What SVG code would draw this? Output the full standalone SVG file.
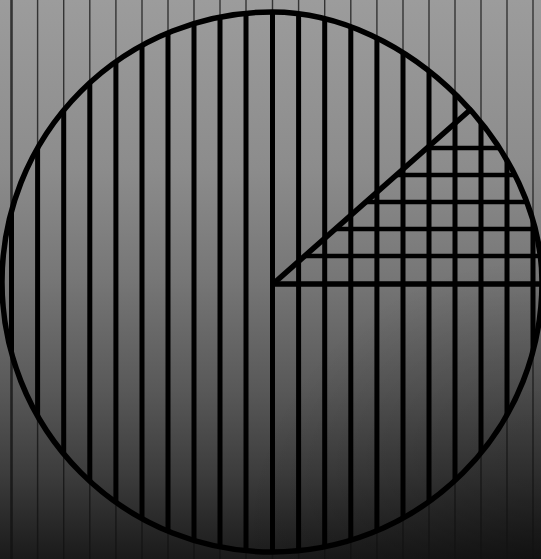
<svg xmlns="http://www.w3.org/2000/svg" width="541" height="559" viewBox="0 0 541 559">
  <defs>
    <linearGradient id="bg" x1="0" y1="0" x2="0" y2="1">
      <stop offset="0" stop-color="#9c9c9c"/>
      <stop offset="0.3" stop-color="#8c8c8c"/>
      <stop offset="0.5" stop-color="#767676"/>
      <stop offset="0.7" stop-color="#585858"/>
      <stop offset="0.85" stop-color="#3c3c3c"/>
      <stop offset="1" stop-color="#1a1a1a"/>
    </linearGradient>
    <radialGradient id="shade" cx="541" cy="559" r="300" gradientUnits="userSpaceOnUse">
      <stop offset="0" stop-color="#000" stop-opacity="0.35"/>
      <stop offset="1" stop-color="#000" stop-opacity="0"/>
    </radialGradient>
    <clipPath id="disc">
      <path d="M272,12 C407,12 542,147 542,282 A270,270 0 0 1 272,552 A270,270 0 0 1 2,282 A270,270 0 0 1 272,12 Z"/>
    </clipPath>
    <clipPath id="slice">
      <path d="M273,284 L470,110 L541,60 L541,284 Z"/>
    </clipPath>
  </defs>
  <style>
    .thin { stroke: #111; stroke-width: 1.4; stroke-opacity: 0.75; }
    .stripe { stroke: #000; stroke-width: 5; }
    .hatch { stroke: #000; stroke-width: 4.5; }
    .edge { fill: none; stroke: #000; stroke-width: 5.5; stroke-linecap: round; }
  </style>

  <rect id="background" x="0" y="0" width="541" height="559" fill="url(#bg)"/>
  <rect id="background-shade" x="0" y="0" width="541" height="559" fill="url(#shade)"/>

  <g id="background-rules">
    <line class="thin" x1="11.5" y1="0" x2="11.5" y2="559" style="stroke-width:2.6"/>
    <line class="thin" x1="37.6" y1="0" x2="37.6" y2="559"/>
    <line class="thin" x1="63.7" y1="0" x2="63.7" y2="559"/>
    <line class="thin" x1="89.8" y1="0" x2="89.8" y2="559"/>
    <line class="thin" x1="115.9" y1="0" x2="115.9" y2="559"/>
    <line class="thin" x1="142" y1="0" x2="142" y2="559"/>
    <line class="thin" x1="168" y1="0" x2="168" y2="559"/>
    <line class="thin" x1="194" y1="0" x2="194" y2="559"/>
    <line class="thin" x1="220" y1="0" x2="220" y2="559"/>
    <line class="thin" x1="246" y1="0" x2="246" y2="559"/>
    <line class="thin" x1="272.5" y1="0" x2="272.5" y2="559"/>
    <line class="thin" x1="298.6" y1="0" x2="298.6" y2="559"/>
    <line class="thin" x1="324.7" y1="0" x2="324.7" y2="559"/>
    <line class="thin" x1="350.8" y1="0" x2="350.8" y2="559"/>
    <line class="thin" x1="376.9" y1="0" x2="376.9" y2="559"/>
    <line class="thin" x1="403" y1="0" x2="403" y2="559"/>
    <line class="thin" x1="429" y1="0" x2="429" y2="559"/>
    <line class="thin" x1="455" y1="0" x2="455" y2="559"/>
    <line class="thin" x1="481" y1="0" x2="481" y2="559"/>
    <line class="thin" x1="507" y1="0" x2="507" y2="559"/>
    <line class="thin" x1="533" y1="0" x2="533" y2="559"/>
  </g>

  <g id="pie-hatching" clip-path="url(#disc)">
    <line class="stripe" x1="11.5" y1="0" x2="11.5" y2="559"/>
    <line class="stripe" x1="37.6" y1="0" x2="37.6" y2="559"/>
    <line class="stripe" x1="63.7" y1="0" x2="63.7" y2="559"/>
    <line class="stripe" x1="89.8" y1="0" x2="89.8" y2="559"/>
    <line class="stripe" x1="115.9" y1="0" x2="115.9" y2="559"/>
    <line class="stripe" x1="142" y1="0" x2="142" y2="559"/>
    <line class="stripe" x1="168" y1="0" x2="168" y2="559"/>
    <line class="stripe" x1="194" y1="0" x2="194" y2="559"/>
    <line class="stripe" x1="220" y1="0" x2="220" y2="559"/>
    <line class="stripe" x1="246" y1="0" x2="246" y2="559"/>
    <line class="stripe" x1="272.5" y1="0" x2="272.5" y2="559"/>
    <line class="stripe" x1="298.6" y1="0" x2="298.6" y2="559"/>
    <line class="stripe" x1="324.7" y1="0" x2="324.7" y2="559"/>
    <line class="stripe" x1="350.8" y1="0" x2="350.8" y2="559"/>
    <line class="stripe" x1="376.9" y1="0" x2="376.9" y2="559"/>
    <line class="stripe" x1="403" y1="0" x2="403" y2="559"/>
    <line class="stripe" x1="429" y1="0" x2="429" y2="559"/>
    <line class="stripe" x1="455" y1="0" x2="455" y2="559"/>
    <line class="stripe" x1="481" y1="0" x2="481" y2="559"/>
    <line class="stripe" x1="507" y1="0" x2="507" y2="559"/>
    <line class="stripe" x1="533" y1="0" x2="533" y2="559"/>
    <g id="slice-hatching" clip-path="url(#slice)">
      <line class="hatch" x1="250" y1="148" x2="541" y2="148"/>
      <line class="hatch" x1="250" y1="175" x2="541" y2="175"/>
      <line class="hatch" x1="250" y1="202" x2="541" y2="202"/>
      <line class="hatch" x1="250" y1="229" x2="541" y2="229"/>
      <line class="hatch" x1="250" y1="256" x2="541" y2="256"/>
    </g>
  </g>

  <g id="pie-outline">
    <path class="edge" d="M272,12 C407,12 542,147 542,282 A270,270 0 0 1 272,552 A270,270 0 0 1 2,282 A270,270 0 0 1 272,12 Z"/>
  </g>

  <g id="slice-edges">
    <line class="edge" x1="273" y1="284" x2="470" y2="110"/>
    <line class="edge" x1="273" y1="284" x2="541" y2="284" style="stroke-linecap:butt"/>
  </g>
</svg>
